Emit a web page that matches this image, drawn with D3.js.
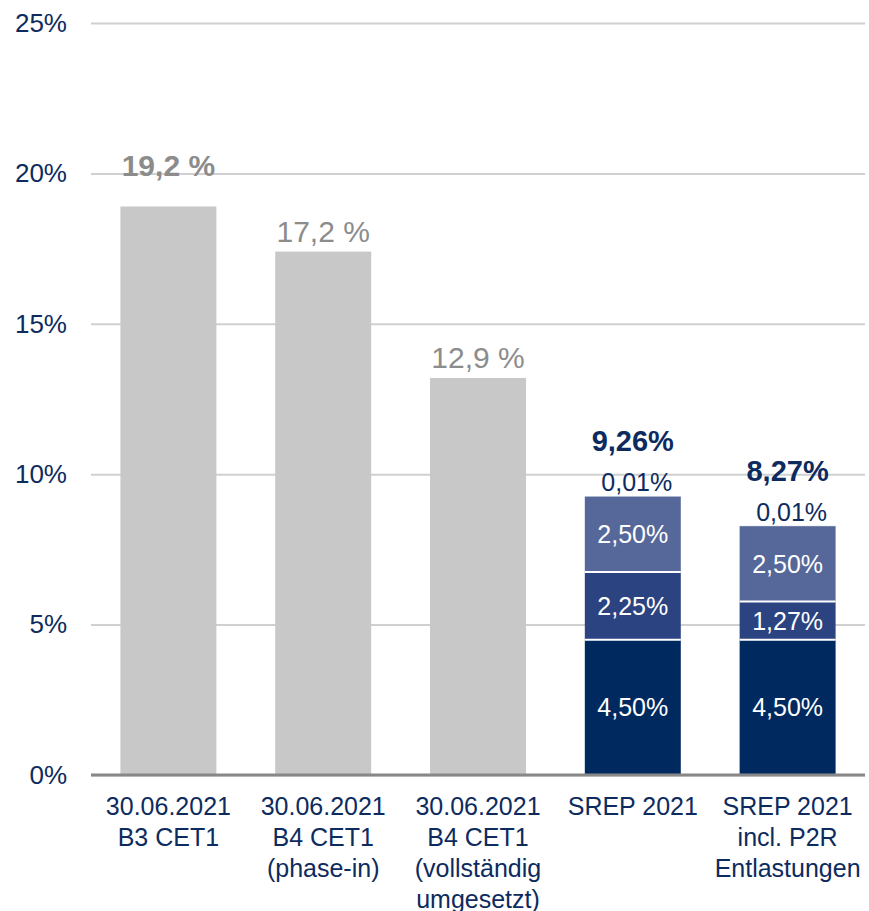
<!DOCTYPE html>
<html>
<head>
<meta charset="utf-8">
<script src="https://cdn.jsdelivr.net/npm/d3@7"></script>
<style>
  body { margin: 0; background: #fff; }
  text { font-family: "Liberation Sans", Arial, sans-serif; }
</style>
</head>
<body>
<div id="chart"></div>
<script>
// categories (multi-line labels)
var categories = ["c1", "c2", "c3", "c4", "c5"];
var categoryLabels = [
  ["30.06.2021", "B3 CET1"],
  ["30.06.2021", "B4 CET1", "(phase-in)"],
  ["30.06.2021", "B4 CET1", "(vollständig", "umgesetzt)"],
  ["SREP 2021"],
  ["SREP 2021", "incl. P2R", "Entlastungen"]
];

// grey bars (actual ratios)
var greyCats = ["c1", "c2", "c3"];
var greyValues = [18.9, 17.4, 13.2];
var greyLabels = ["19,2 %", "17,2 %", "12,9 %"];

// stacked bars (requirements)
var stackCats = ["c4", "c5"];
var pillar1 = [4.50, 4.50];
var p2r = [2.25, 1.27];
var buffer = [2.50, 2.50];
var ccyb = [0.01, 0.01];
var totalLabels = ["9,26%", "8,27%"];

var yTicks = [0, 5, 10, 15, 20, 25];

// set the dimensions and margins of the graph
var margin = {top: 23, right: 4, bottom: 136, left: 91},
  width = 869 - margin.left - margin.right,
  height = 911 - margin.top - margin.bottom;

var navy = "#0d2b5e";
var grey = "#8c8c8c";
var segColors = ["#002a5f", "#2b4380", "#556899", "#556899"];

var svg = d3.select("#chart")
  .append("svg")
    .attr("width", width + margin.left + margin.right)
    .attr("height", height + margin.top + margin.bottom)
  .append("g")
    .attr("transform", "translate(" + margin.left + "," + margin.top + ")");

var x = d3.scaleBand()
  .domain(categories)
  .range([0, width])
  .paddingInner(0.38)
  .paddingOuter(0.19);

var y = d3.scaleLinear()
  .domain([0, 25])
  .range([height, 0]);

// gridlines + y labels
var yAxis = svg.append("g")
  .call(d3.axisLeft(y)
    .tickValues(yTicks)
    .tickSize(-width)
    .tickPadding(24)
    .tickFormat(function(d) { return d + "%"; }));
yAxis.select(".domain").remove();
yAxis.selectAll("line")
  .attr("stroke", "#d0d0d0")
  .attr("stroke-width", 2);
yAxis.selectAll("text")
  .attr("fill", navy)
  .style("font-size", "26px")
  .style("font-family", "'Liberation Sans', Arial, sans-serif");

// grey bars
svg.selectAll(".grey-bar")
  .data(greyValues)
  .enter().append("rect")
    .attr("class", "grey-bar")
    .attr("x", function(d, i) { return x(greyCats[i]); })
    .attr("width", x.bandwidth())
    .attr("y", function(d) { return y(d); })
    .attr("height", function(d) { return y(0) - y(d); })
    .attr("fill", "#c8c8c8");

svg.selectAll(".grey-label")
  .data(greyValues)
  .enter().append("text")
    .attr("class", "grey-label")
    .attr("x", function(d, i) { return x(greyCats[i]) + x.bandwidth() / 2; })
    .attr("y", function(d, i) { return y(d) - (i === 0 ? 30 : 10); })
    .attr("text-anchor", "middle")
    .attr("fill", grey)
    .style("font-size", "30px")
    .style("font-weight", function(d, i) { return i === 0 ? "bold" : "normal"; })
    .text(function(d, i) { return greyLabels[i]; });

// stacked bars
var series = [pillar1, p2r, buffer, ccyb];
stackCats.forEach(function(cat, j) {
  var base = 0;
  series.forEach(function(s, k) {
    var v = s[j];
    var y0 = y(base), y1 = y(base + v);
    svg.append("rect")
      .attr("x", x(cat))
      .attr("width", x.bandwidth())
      .attr("y", y1)
      .attr("height", y0 - y1)
      .attr("fill", segColors[k]);
    if (k < 3) {
      svg.append("text")
        .attr("x", x(cat) + x.bandwidth() / 2)
        .attr("y", (y0 + y1) / 2)
        .attr("dy", "0.36em")
        .attr("text-anchor", "middle")
        .attr("fill", "#ffffff")
        .style("font-size", "25px")
        .text(v.toFixed(2).replace(".", ",") + "%");
    }
    if (k > 0 && k < 3) {
      // white separator line
      svg.append("line")
        .attr("x1", x(cat))
        .attr("x2", x(cat) + x.bandwidth())
        .attr("y1", y0)
        .attr("y2", y0)
        .attr("stroke", "#ffffff")
        .attr("stroke-width", 2);
    }
    base += v;
  });
  var top = y(base);
  // small segment label
  svg.append("text")
    .attr("x", x(cat) + x.bandwidth() / 2 + 4)
    .attr("y", top - 5)
    .attr("text-anchor", "middle")
    .attr("fill", navy)
    .style("font-size", "25px")
    .text(ccyb[j].toFixed(2).replace(".", ",") + "%");
  // total label
  svg.append("text")
    .attr("x", x(cat) + x.bandwidth() / 2)
    .attr("y", top - 45)
    .attr("text-anchor", "middle")
    .attr("fill", navy)
    .style("font-size", "29px")
    .style("font-weight", "bold")
    .text(totalLabels[j]);
});

// baseline
svg.append("line")
  .attr("x1", 0)
  .attr("x2", width)
  .attr("y1", y(0))
  .attr("y2", y(0))
  .attr("stroke", "#888888")
  .attr("stroke-width", 3);

// category labels
categories.forEach(function(cat, i) {
  var g = svg.append("g")
    .attr("transform", "translate(" + (x(cat) + x.bandwidth() / 2) + "," + (height + 40) + ")");
  categoryLabels[i].forEach(function(line, k) {
    g.append("text")
      .attr("x", 0)
      .attr("y", k * 31)
      .attr("text-anchor", "middle")
      .attr("fill", navy)
      .style("font-size", "25px")
      .text(line);
  });
});
</script>
</body>
</html>
